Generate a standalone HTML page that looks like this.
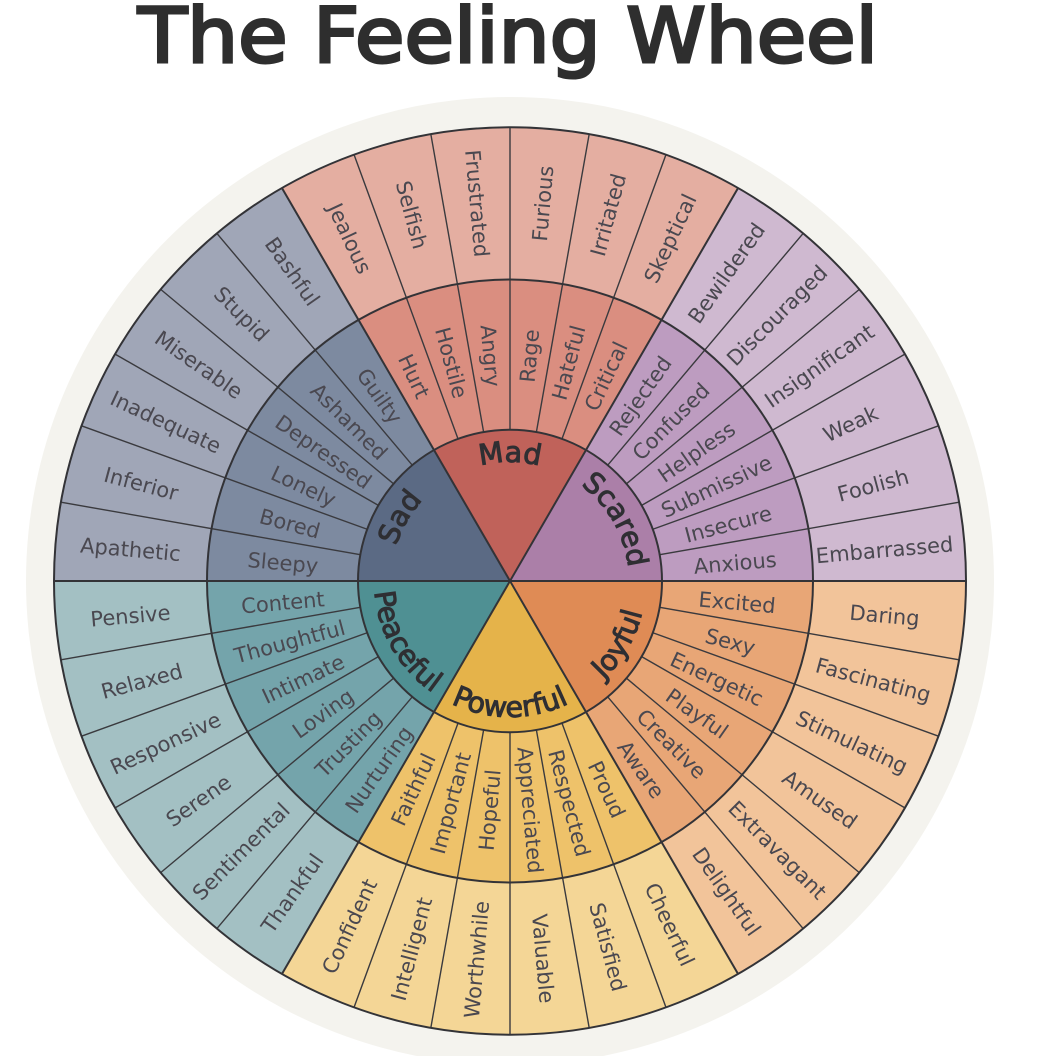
<!DOCTYPE html>
<html><head><meta charset="utf-8"><style>
html,body{margin:0;padding:0;background:#fff}
svg{display:block}
.o,.m{font-family:"DejaVu Sans","Liberation Sans",sans-serif;font-size:21px;fill:#4a4850;text-anchor:middle}
.c{font-family:"DejaVu Sans","Liberation Sans",sans-serif;font-size:28.5px;fill:#2f2f33;stroke:#2f2f33;stroke-width:1;text-anchor:middle}
</style></head><body>
<svg width="1056" height="1056" viewBox="0 0 1056 1056" xmlns="http://www.w3.org/2000/svg">
<defs>
<path id="ta" d="M510 700A119 119 0 1 1 510 462A119 119 0 1 1 510 700"/>
<path id="ba" d="M510 445A136 136 0 1 0 510 717A136 136 0 1 0 510 445"/>
</defs>
<rect width="1056" height="1056" fill="#fff"/>
<text x="138" y="62" font-family="'DejaVu Sans','Liberation Sans',sans-serif" font-size="76" fill="#2e2e2e" stroke="#2e2e2e" stroke-width="3" textLength="740" lengthAdjust="spacingAndGlyphs">The Feeling Wheel</text>
<circle cx="510" cy="581" r="484" fill="#f4f3ee"/>

<g transform="translate(0 581) scale(1 .995) translate(0 -581)">
<!-- outer -->
<path fill="#e4aea1" d="M510 581L282 186.1A456 456 0 0 1 738 186.1Z"/>
<path fill="#cfb9d0" d="M510 581L738 186.1A456 456 0 0 1 966 581Z"/>
<path fill="#f2c49a" d="M510 581L966 581A456 456 0 0 1 738 975.9Z"/>
<path fill="#f4d696" d="M510 581L738 975.9A456 456 0 0 1 282 975.9Z"/>
<path fill="#a3c0c3" d="M510 581L282 975.9A456 456 0 0 1 54 581Z"/>
<path fill="#a0a6b7" d="M510 581L54 581A456 456 0 0 1 282 186.1Z"/>
<!-- middle -->
<path fill="#da8e80" d="M510 581L358.5 318.6A303 303 0 0 1 661.5 318.6Z"/>
<path fill="#bd9cc0" d="M510 581L661.5 318.6A303 303 0 0 1 813 581Z"/>
<path fill="#e8a676" d="M510 581L813 581A303 303 0 0 1 661.5 843.4Z"/>
<path fill="#eec26a" d="M510 581L661.5 843.4A303 303 0 0 1 358.5 843.4Z"/>
<path fill="#74a4ab" d="M510 581L358.5 843.4A303 303 0 0 1 207 581Z"/>
<path fill="#7d8aa0" d="M510 581L207 581A303 303 0 0 1 358.5 318.6Z"/>
<!-- center -->
<path fill="#c0625a" d="M510 581L434 449.4A152 152 0 0 1 586 449.4Z"/>
<path fill="#ab7fa8" d="M510 581L586 449.4A152 152 0 0 1 662 581Z"/>
<path fill="#df8b55" d="M510 581L662 581A152 152 0 0 1 586 712.6Z"/>
<path fill="#e5b34a" d="M510 581L586 712.6A152 152 0 0 1 434 712.6Z"/>
<path fill="#4f9093" d="M510 581L434 712.6A152 152 0 0 1 358 581Z"/>
<path fill="#5b6a84" d="M510 581L358 581A152 152 0 0 1 434 449.4Z"/>

<!-- lines -->
<g fill="none" stroke="#3a3a3e" stroke-width="1.4">
<path d="M54 581H358M662 581H966" transform="rotate(10 510 581)"/>
<path d="M54 581H358M662 581H966" transform="rotate(20 510 581)"/>
<path d="M54 581H358M662 581H966" transform="rotate(30 510 581)"/>
<path d="M54 581H358M662 581H966" transform="rotate(40 510 581)"/>
<path d="M54 581H358M662 581H966" transform="rotate(50 510 581)"/>
<path d="M54 581H358M662 581H966" transform="rotate(70 510 581)"/>
<path d="M54 581H358M662 581H966" transform="rotate(80 510 581)"/>
<path d="M54 581H358M662 581H966" transform="rotate(90 510 581)"/>
<path d="M54 581H358M662 581H966" transform="rotate(100 510 581)"/>
<path d="M54 581H358M662 581H966" transform="rotate(110 510 581)"/>
<path d="M54 581H358M662 581H966" transform="rotate(130 510 581)"/>
<path d="M54 581H358M662 581H966" transform="rotate(140 510 581)"/>
<path d="M54 581H358M662 581H966" transform="rotate(150 510 581)"/>
<path d="M54 581H358M662 581H966" transform="rotate(160 510 581)"/>
<path d="M54 581H358M662 581H966" transform="rotate(170 510 581)"/>
</g>
<g fill="none" stroke="#333337" stroke-width="2">
<path d="M54 581H966"/>
<path d="M54 581H966" transform="rotate(60 510 581)"/>
<path d="M54 581H966" transform="rotate(120 510 581)"/>
<circle cx="510" cy="581" r="456"/>
<circle cx="510" cy="581" r="303"/>
<circle cx="510" cy="581" r="152"/>
</g>
</g>

<g transform="translate(0 2)">
<!-- outer labels -->
<text class="o" x="130" y="588" transform="rotate(65 510 581)">Jealous</text>
<text class="o" x="129" y="588" transform="rotate(75 510 581)">Selfish</text>
<text class="o" x="129" y="588" transform="rotate(85 510 581)">Frustrated</text>
<text class="o" x="891" y="588" transform="rotate(-85 510 581)">Furious</text>
<text class="o" x="891" y="588" transform="rotate(-75 510 581)">Irritated</text>
<text class="o" x="890" y="588" transform="rotate(-65 510 581)">Skeptical</text>
<text class="o" x="888" y="588" transform="rotate(-55 510 581)">Bewildered</text>
<text class="o" x="888" y="588" transform="rotate(-45 510 581)">Discouraged</text>
<text class="o" x="888" y="588" transform="rotate(-35 510 581)">Insignificant</text>
<text class="o" x="886" y="588" transform="rotate(-25 510 581)">Weak</text>
<text class="o" x="886" y="588" transform="rotate(-15 510 581)">Foolish</text>
<text class="o" x="886" y="588" transform="rotate(-5 510 581)">Embarrassed</text>
<text class="o" x="886" y="588" transform="rotate(5 510 581)">Daring</text>
<text class="o" x="886" y="588" transform="rotate(15 510 581)">Fascinating</text>
<text class="o" x="887" y="588" transform="rotate(25 510 581)">Stimulating</text>
<text class="o" x="888" y="588" transform="rotate(35 510 581)">Amused</text>
<text class="o" x="888" y="588" transform="rotate(45 510 581)">Extravagant</text>
<text class="o" x="887" y="588" transform="rotate(55 510 581)">Delightful</text>
<text class="o" x="887" y="588" transform="rotate(65 510 581)">Cheerful</text>
<text class="o" x="887" y="588" transform="rotate(75 510 581)">Satisfied</text>
<text class="o" x="887" y="588" transform="rotate(85 510 581)">Valuable</text>
<text class="o" x="132" y="588" transform="rotate(-85 510 581)">Worthwhile</text>
<text class="o" x="131" y="588" transform="rotate(-75 510 581)">Intelligent</text>
<text class="o" x="131" y="588" transform="rotate(-65 510 581)">Confident</text>
<text class="o" x="131" y="588" transform="rotate(-55 510 581)">Thankful</text>
<text class="o" x="130" y="588" transform="rotate(-45 510 581)">Sentimental</text>
<text class="o" x="130" y="588" transform="rotate(-35 510 581)">Serene</text>
<text class="o" x="130" y="588" transform="rotate(-25 510 581)">Responsive</text>
<text class="o" x="129" y="588" transform="rotate(-15 510 581)">Relaxed</text>
<text class="o" x="129" y="588" transform="rotate(-5 510 581)">Pensive</text>
<text class="o" x="129" y="588" transform="rotate(5 510 581)">Apathetic</text>
<text class="o" x="128" y="588" transform="rotate(15 510 581)">Inferior</text>
<text class="o" x="130" y="588" transform="rotate(25 510 581)">Inadequate</text>
<text class="o" x="130" y="588" transform="rotate(35 510 581)">Miserable</text>
<text class="o" x="130" y="588" transform="rotate(45 510 581)">Stupid</text>
<text class="o" x="130" y="588" transform="rotate(55 510 581)">Bashful</text>
<!-- middle labels -->
<text class="m" x="282" y="588" transform="rotate(65 510 581)">Hurt</text>
<text class="m" x="282" y="588" transform="rotate(75 510 581)">Hostile</text>
<text class="m" x="282" y="588" transform="rotate(85 510 581)">Angry</text>
<text class="m" x="738" y="588" transform="rotate(-85 510 581)">Rage</text>
<text class="m" x="738" y="588" transform="rotate(-75 510 581)">Hateful</text>
<text class="m" x="738" y="588" transform="rotate(-65 510 581)">Critical</text>
<text class="m" x="738" y="588" transform="rotate(-55 510 581)">Rejected</text>
<text class="m" x="738" y="588" transform="rotate(-45 510 581)">Confused</text>
<text class="m" x="738" y="588" transform="rotate(-35 510 581)">Helpless</text>
<text class="m" x="738" y="588" transform="rotate(-25 510 581)">Submissive</text>
<text class="m" x="736" y="588" transform="rotate(-15 510 581)">Insecure</text>
<text class="m" x="736" y="588" transform="rotate(-5 510 581)">Anxious</text>
<text class="m" x="738" y="588" transform="rotate(5 510 581)">Excited</text>
<text class="m" x="738" y="588" transform="rotate(15 510 581)">Sexy</text>
<text class="m" x="738" y="588" transform="rotate(25 510 581)">Energetic</text>
<text class="m" x="738" y="588" transform="rotate(35 510 581)">Playful</text>
<text class="m" x="738" y="588" transform="rotate(45 510 581)">Creative</text>
<text class="m" x="738" y="588" transform="rotate(55 510 581)">Aware</text>
<text class="m" x="738" y="588" transform="rotate(65 510 581)">Proud</text>
<text class="m" x="738" y="588" transform="rotate(75 510 581)">Respected</text>
<text class="m" x="738" y="588" transform="rotate(85 510 581)">Appreciated</text>
<text class="m" x="282" y="588" transform="rotate(-85 510 581)">Hopeful</text>
<text class="m" x="282" y="588" transform="rotate(-75 510 581)">Important</text>
<text class="m" x="282" y="588" transform="rotate(-65 510 581)">Faithful</text>
<text class="m" x="282" y="588" transform="rotate(-55 510 581)">Nurturing</text>
<text class="m" x="282" y="588" transform="rotate(-45 510 581)">Trusting</text>
<text class="m" x="282" y="588" transform="rotate(-35 510 581)">Loving</text>
<text class="m" x="282" y="588" transform="rotate(-25 510 581)">Intimate</text>
<text class="m" x="282" y="588" transform="rotate(-15 510 581)">Thoughtful</text>
<text class="m" x="282" y="588" transform="rotate(-5 510 581)">Content</text>
<text class="m" x="282" y="588" transform="rotate(5 510 581)">Sleepy</text>
<text class="m" x="282" y="588" transform="rotate(15 510 581)">Bored</text>
<text class="m" x="282" y="588" transform="rotate(25 510 581)">Lonely</text>
<text class="m" x="282" y="588" transform="rotate(35 510 581)">Depressed</text>
<text class="m" x="282" y="588" transform="rotate(45 510 581)">Ashamed</text>
<text class="m" x="282" y="588" transform="rotate(55 510 581)">Guilty</text>
</g>
<!-- center labels -->
<text class="c"><textPath href="#ta" startOffset="50%">Mad</textPath></text>
<text class="c"><textPath href="#ta" startOffset="66.67%">Scared</textPath></text>
<text class="c"><textPath href="#ta" startOffset="33.33%">Sad</textPath></text>
<text class="c"><textPath href="#ba" startOffset="50%">Powerful</textPath></text>
<text class="c"><textPath href="#ba" startOffset="66.67%">Joyful</textPath></text>
<text class="c"><textPath href="#ba" startOffset="33.33%">Peaceful</textPath></text>
</svg>
</body></html>
